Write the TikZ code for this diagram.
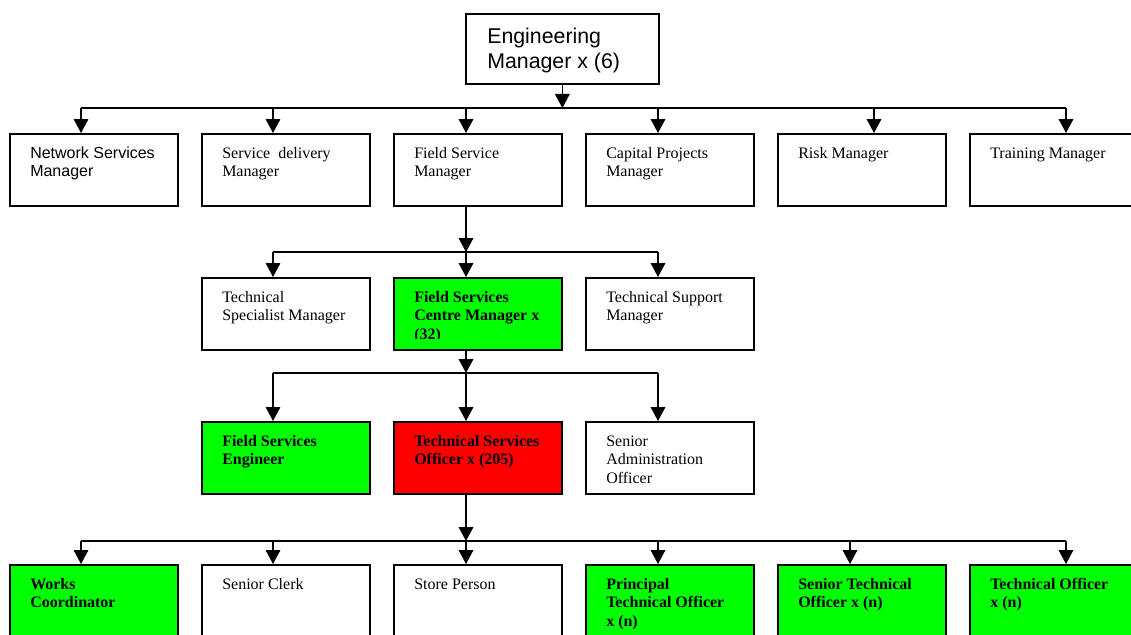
\documentclass[tikz,border=0pt]{standalone}
\usepackage{fontspec}
\setmainfont{Liberation Serif}
\newfontfamily\arialf{Liberation Sans}
\usetikzlibrary{arrows.meta}
\definecolor{bgreen}{RGB}{0,255,0}
\definecolor{bred}{RGB}{255,0,0}
\tikzset{
  box/.style={draw=black, line width=1.3pt, fill=white, rectangle, inner sep=0pt,
    anchor=north west, minimum width=126pt, minimum height=54pt},
  gbox/.style={box, fill=bgreen},
  rbox/.style={box, fill=bred},
  tallbox/.style={box, minimum height=70pt},
  tallgbox/.style={tallbox, fill=bgreen},
  widebox/.style={box, minimum width=135pt},
  lbl/.style={anchor=north west, inner sep=0pt, align=left,
    font=\fontsize{12}{13.8}\selectfont},
  blbl/.style={lbl, font=\fontsize{12}{13.8}\selectfont\bfseries},
  albl/.style={lbl, font=\arialf\fontsize{12}{13.8}\selectfont},
  toplbl/.style={anchor=north west, inner sep=0pt, align=left,
    font=\arialf\fontsize{16}{18.6}\selectfont},
  conn/.style={line width=0.9pt},
  arr/.style={conn, -{Triangle[width=11pt,length=10.5pt]}}
}
\newcommand\mkbox[6]{%
  \node[#2] (#1) at (#4,#5) {};
  \node[#3] (#1-t) at (#4+21,#5+13) {\rule{0pt}{9pt}#6};
}
\begin{document}
\begin{tikzpicture}[x=0.75pt, y=-0.75pt]
\useasboundingbox (0,0) rectangle (1131,635);
\clip (0,0) rectangle (1131,635);
\fill[white] (0,0) rectangle (1131,635);

% top box
\node[box, minimum width=144.75pt, minimum height=52.5pt] (em) at (465,13) {};
\node[toplbl] (em-t) at (487,27) {\rule{0pt}{12pt}Engineering\\Manager x (6)};

% row 1
\mkbox{nsm}{box}{albl}{9}{133}{Network Services\\Manager}
\mkbox{sdm}{box}{lbl}{201}{133}{Service\hspace{3pt} delivery\\Manager}
\mkbox{fsm}{box}{lbl}{393}{133}{Field Service\\Manager}
\mkbox{cpm}{box}{lbl}{585}{133}{Capital Projects\\Manager}
\mkbox{rm}{box}{lbl}{777}{133}{Risk Manager}
\mkbox{tm}{widebox}{lbl}{969}{133}{Training Manager}

% row 2
\mkbox{tsm}{box}{lbl}{201}{277}{Technical\\Specialist Manager}
\node[gbox] (fscm) at (393,277) {};
\begin{scope}
  \clip (393,277) rectangle (561,338);
  \node[blbl] (fscm-t) at (414,290) {\rule{0pt}{9pt}Field Services\\Centre Manager x\\(32)};
\end{scope}
\mkbox{tspm}{box}{lbl}{585}{277}{Technical Support\\Manager}

% row 3
\mkbox{fse}{gbox}{blbl}{201}{421}{Field Services\\Engineer}
\mkbox{tso}{rbox}{blbl}{393}{421}{Technical Services\\Officer x (205)}
\mkbox{sao}{box}{lbl}{585}{421}{Senior\\Administration\\Officer}

% row 4
\mkbox{wc}{tallgbox}{blbl}{9}{564}{Works\\Coordinator}
\mkbox{sc}{tallbox}{lbl}{201}{564}{Senior Clerk}
\mkbox{sp}{tallbox}{lbl}{393}{564}{Store Person}
\mkbox{pto}{tallgbox}{blbl}{585}{564}{Principal\\Technical Officer\\x (n)}
\mkbox{sto}{tallgbox}{blbl}{777}{564}{Senior Technical\\Officer x (n)}
\mkbox{to}{tallgbox}{blbl}{969}{564}{Technical Officer\\x (n)}

% level 0 connectors
\coordinate (j0) at (562,108);
\draw[arr] (em.south) -- (em.south |- j0);
\foreach \n/\x in {nsm/81, sdm/273, fsm/466, cpm/658, rm/874, tm/1066} {
  \coordinate (j0-\n) at (\x,108);
  \draw[arr] (j0-\n) -- (j0-\n |- \n.north);
}
\draw[conn] (j0-nsm) -- (j0-tm);

% level 1 connectors
\coordinate (j1) at (466,252);
\draw[arr] (j1 |- fsm.south) -- (j1);
\foreach \n/\x in {tsm/273, fscm/466, tspm/658} {
  \coordinate (j1-\n) at (\x,252);
  \draw[arr] (j1-\n) -- (j1-\n |- \n.north);
}
\draw[conn] (j1-tsm) -- (j1-tspm);

% level 2 connectors
\coordinate (j2) at (466,373);
\draw[arr] (j2 |- fscm.south) -- (j2);
\foreach \n/\x in {fse/273, tso/466, sao/658} {
  \coordinate (j2-\n) at (\x,373);
  \draw[arr] (j2-\n) -- (j2-\n |- \n.north);
}
\draw[conn] (j2-fse) -- (j2-sao);

% level 3 connectors
\coordinate (j3) at (466,541);
\draw[arr] (j3 |- tso.south) -- (j3);
\foreach \n/\x in {wc/81, sc/273, sp/466, pto/658, sto/850, to/1066} {
  \coordinate (j3-\n) at (\x,541);
  \draw[arr] (j3-\n) -- (j3-\n |- \n.north);
}
\draw[conn] (j3-wc) -- (j3-to);
\end{tikzpicture}
\end{document}
